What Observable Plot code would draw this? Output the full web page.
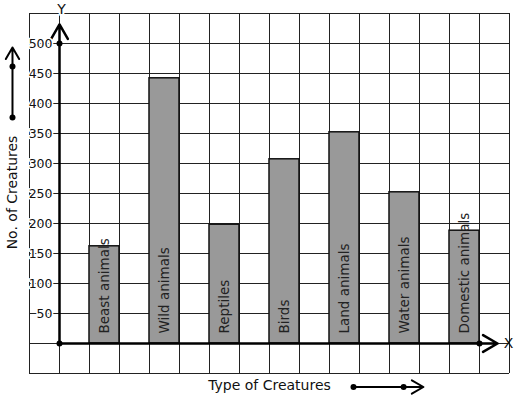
<!DOCTYPE html>
<html>
<head>
<meta charset="utf-8">
<script src="https://cdn.jsdelivr.net/npm/d3@7"></script>
<script src="https://cdn.jsdelivr.net/npm/@observablehq/plot@0.6"></script>
<style>
  html, body { margin: 0; padding: 0; background: #fff; }
  #chart svg { display: block; }
</style>
</head>
<body>
<div id="chart"></div>
<script>
const categories = ["Beast animals", "Wild animals", "Reptiles", "Birds", "Land animals", "Water animals", "Domestic animals"];
const values = [162, 442, 198, 307, 352, 252, 188];
const yTickValues = [50, 100, 150, 200, 250, 300, 350, 400, 450, 500];
const xTitle = "Type of Creatures";
const yTitle = "No. of Creatures";

const data = categories.map((c, i) => ({ category: c, value: values[i], slot: 2 * i + 1 }));

// grid cells (one unit per cell on x, 50 per cell on y)
const xGrid = d3.range(-1, 16);
const yGrid = d3.range(-50, 551, 50);

const font = "DejaVu Sans";
const plot = Plot.plot({
  width: 517,
  height: 399,
  marginLeft: 29,
  marginRight: 8,
  marginTop: 13,
  marginBottom: 26,
  x: { type: "linear", domain: [-1, 15], axis: null },
  y: { type: "linear", domain: [-50, 550], axis: null },
  style: { fontFamily: font, background: "white", overflow: "visible", color: "#111" },
  marks: [
    Plot.ruleX(xGrid, { x: d => d, y1: -50, y2: 550, stroke: "#222", strokeWidth: 1 }),
    Plot.ruleY(yGrid, { y: d => d, x1: -1, x2: 15, stroke: "#222", strokeWidth: 1 }),
    Plot.rect(data, { x1: "slot", x2: d => d.slot + 1, y1: 0, y2: "value", fill: "#999", stroke: "#111", strokeWidth: 1.5 }),
    Plot.text(data, { x: d => d.slot + 0.5, y: 0, text: "category", rotate: -90, textAnchor: "start", dy: -10, fontSize: 13.5, fill: "#222" }),
    // axes
    Plot.arrow([0], { x1: 0, y1: 0, x2: 14.6, y2: 0, stroke: "#000", strokeWidth: 2.5, headLength: 10, headAngle: 60 }),
    Plot.arrow([0], { x1: 0, y1: 0, x2: 0, y2: 531.7, stroke: "#000", strokeWidth: 2.5, headLength: 10, headAngle: 60 }),
    Plot.dot([[0, 0], [0, 500], [14, 0]], { x: d => d[0], y: d => d[1], r: 3, fill: "#000", stroke: null }),
    Plot.text(yTickValues, { x: 0, y: d => d, text: d => String(d), textAnchor: "end", dx: -7, fontSize: 12.5, fill: "#111", stroke: "white", strokeWidth: 3, paintOrder: "stroke" }),
    Plot.text(["X"], { x: 14.97, y: 0, text: d => d, fontSize: 14, fill: "#111" }),
    Plot.text(["Y"], { x: 0.07, y: 556.7, text: d => d, fontSize: 14, fill: "#111", stroke: "white", strokeWidth: 4, paintOrder: "stroke" }),
    // titles with decorative arrows
    Plot.text([yTitle], { x: -1.567, y: 251.7, text: d => d, rotate: -90, fontSize: 14, fill: "#111" }),
    Plot.arrow([0], { x1: -1.567, y1: 376.7, x2: -1.567, y2: 493.3, stroke: "#000", strokeWidth: 2, headLength: 10, headAngle: 60 }),
    Plot.dot([376.7, 461.7], { x: -1.567, y: d => d, r: 3, fill: "#000", stroke: null }),
    Plot.text([xTitle], { x: 7.0, y: -70, text: d => d, fontSize: 14, fill: "#111" }),
    Plot.arrow([0], { x1: 9.8, y1: -72.5, x2: 12.13, y2: -72.5, stroke: "#000", strokeWidth: 2, headLength: 10, headAngle: 60 }),
    Plot.dot([9.8, 11.47], { x: d => d, y: -72.5, r: 3, fill: "#000", stroke: null })
  ]
});
document.getElementById("chart").appendChild(plot);
</script>
</body>
</html>
